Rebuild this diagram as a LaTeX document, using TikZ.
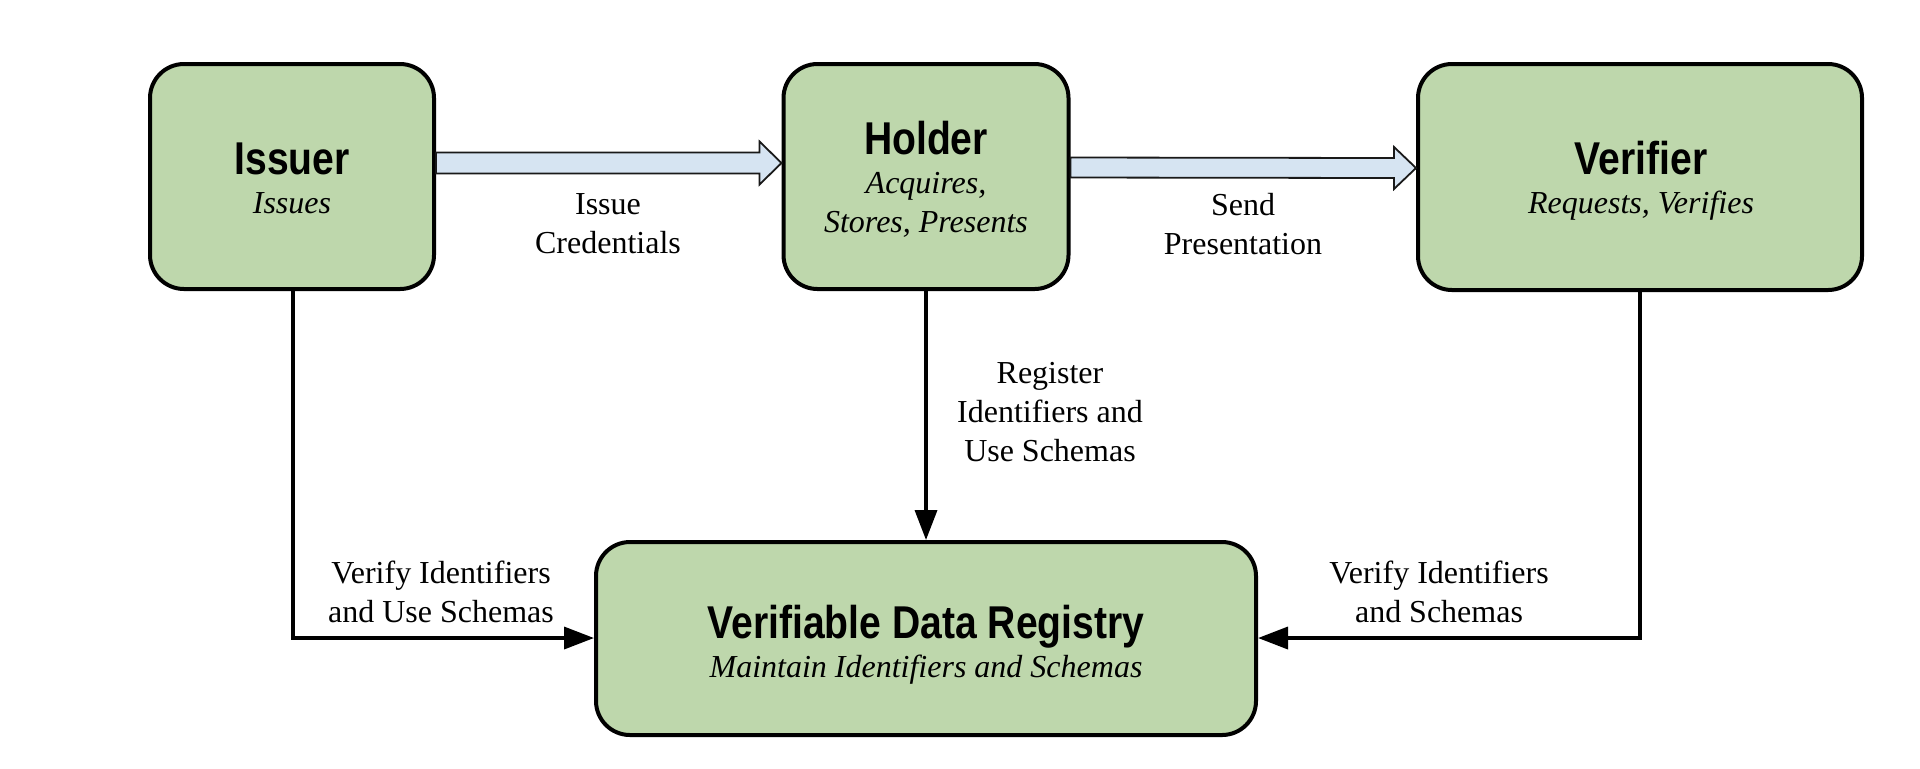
\documentclass[tikz,border=0pt]{standalone}
\usepackage{fontspec}
\setmainfont{Liberation Serif}
\newfontfamily\titlefont[FakeStretch=0.85]{Liberation Sans}
\usetikzlibrary{arrows.meta,calc}
\definecolor{boxgreen}{RGB}{190,215,172}
\definecolor{arrowblue}{RGB}{214,228,242}
\tikzset{
  actor/.style={draw=black, line width=2pt, fill=boxgreen, rounded corners=17pt, align=center, inner sep=0pt},
  ttl/.style={font=\titlefont\bfseries\fontsize{23pt}{27pt}\selectfont},
  flow/.style={draw=black, line width=1.8pt, -{Triangle[length=15pt,width=11pt]}},
  blockarrow/.style={draw=black!90, line width=0.9pt, fill=arrowblue},
  lbl/.style={align=center, font=\fontsize{16pt}{19.5pt}\selectfont, inner sep=0pt},
  sub/.style={lbl, font=\itshape\fontsize{16pt}{19.5pt}\selectfont},
}
\begin{document}
\begin{tikzpicture}[x=0.5pt,y=-0.5pt]
\useasboundingbox[fill=white] (0,0) rectangle (1920,768);
% boxes
\node[actor, minimum width=142pt, minimum height=112.5pt] (issuer) at (292,176.5) {};
\node[actor, minimum width=142.5pt, minimum height=112.5pt] (holder) at (926,176.5) {};
\node[actor, minimum width=222pt, minimum height=113pt] (verifier) at (1640,177) {};
\node[actor, minimum width=330pt, minimum height=96.5pt] (vdr) at (926,638.5) {};
% box texts
\node[ttl, anchor=base] (t1) at (292,174) {Issuer};
\node[sub, anchor=base] (s1) at (292,213) {Issues};
\node[ttl, anchor=base] (t2) at (926,154) {Holder};
\node[sub] (s2) at (926,205) {Acquires,\\Stores, Presents};
\node[ttl, anchor=base] (t3) at (1641,174) {Verifier};
\node[sub, anchor=base] (s3) at (1641,213) {Requests, Verifies};
\node[ttl, anchor=base] (t4) at (926,638) {Verifiable Data Registry};
\node[sub, anchor=base] (s4) at (926,677) {Maintain Identifiers and Schemas};
% block arrows
\draw[blockarrow]
  ($(issuer.east)+(0,-24)$) -- ($(holder.west)+(-22,-24)$) -- ($(holder.west)+(-22,-35)$)
  -- ($(holder.west)+(0,-13.5)$) -- ($(holder.west)+(-22,8)$) -- ($(holder.west)+(-22,-3)$)
  -- ($(issuer.east)+(0,-3)$) -- cycle;
\draw[blockarrow]
  ($(holder.east)+(0,-19)$) -- ($(verifier.west)+(-22,-19)$) -- ($(verifier.west)+(-22,-30)$)
  -- ($(verifier.west)+(0,-9)$) -- ($(verifier.west)+(-22,12)$) -- ($(verifier.west)+(-22,1)$)
  -- ($(holder.east)+(0,1)$) -- cycle;
% line connectors
\coordinate (c1) at (293,638);
\coordinate (c2) at (1639,638);
\draw[flow] ([xshift=0.5pt]issuer.south) |- (c1) -- (vdr.west |- c1);
\draw[flow] (holder.south) -- (vdr.north);
\draw[flow] (verifier.south) |- (c2) -- (vdr.east |- c2);
% labels
\node[lbl] (l1) at (608,224) {Issue\\Credentials};
\node[lbl] (l2) at (1243,224) {Send\\Presentation};
\node[lbl] (l3) at (1050,412) {Register\\Identifiers and\\Use Schemas};
\node[lbl] (l4) at (441,592) {Verify Identifiers\\and Use Schemas};
\node[lbl] (l5) at (1439,592) {Verify Identifiers\\and Schemas};
\end{tikzpicture}
\end{document}
